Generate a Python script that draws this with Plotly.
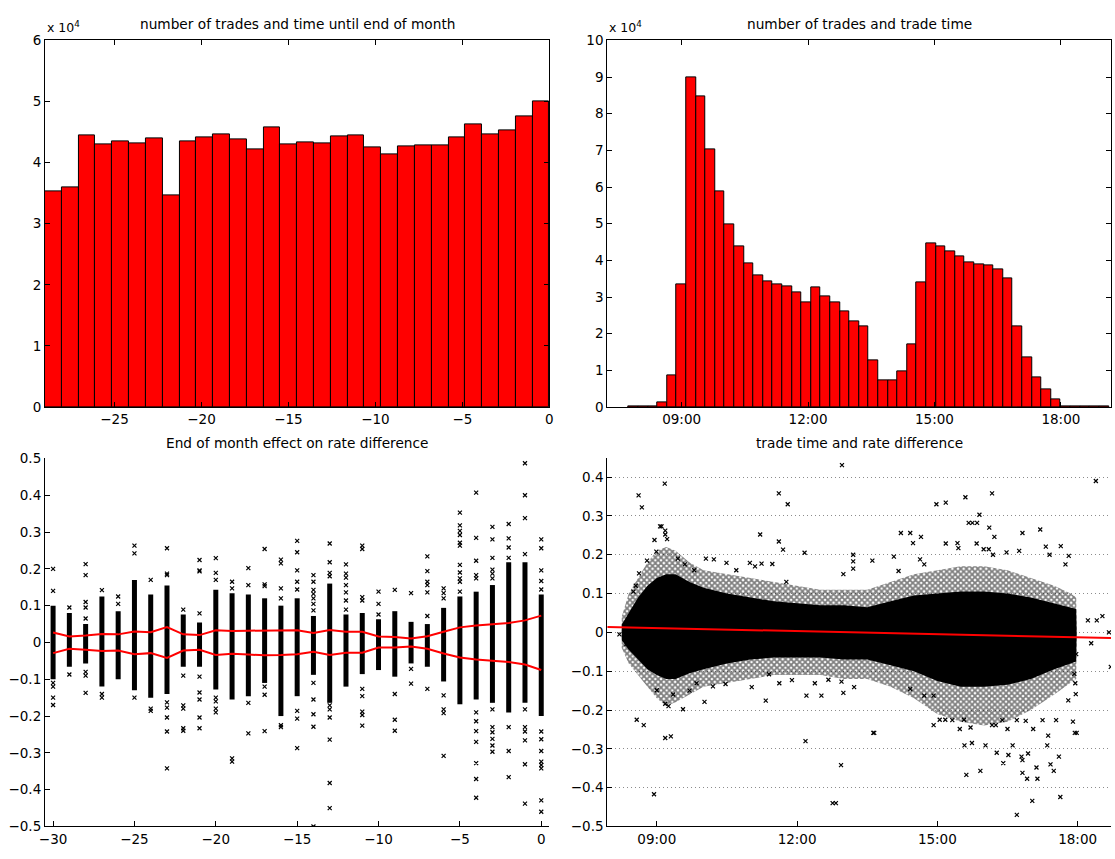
import numpy as np
import plotly.graph_objects as go

W, H = 1115, 859

# ---------------- data ----------------
# trades per day-bin, from -29 days to month end (30 bins)
month_counts = [35300, 36000, 44400, 42900, 43500, 43200, 43950, 34700, 43400, 44200,
                44600, 43800, 42100, 45700, 43000, 43300, 43100, 44300, 44400, 42500,
                41400, 42700, 42800, 42800, 44100, 46250, 44600, 45200, 47500, 50060]
month_first, month_last = -29, 0

# trades per time-of-day bin (hours)
time_bin_start = 7.742
time_bin_width = 0.2279
time_counts = [200, 200, 300,
               1400, 8600, 33500, 90000, 84800, 70400, 58800, 49800, 43800, 39200,
               36000, 34200, 33500, 33000, 31200, 28500, 32500, 30200, 28500, 26000,
               23400, 21900, 12600, 7300, 7300, 9700, 17100, 34000, 44500, 43800,
               42500, 41000, 39500, 39000, 38500, 37500, 35000, 22000, 13600, 8200,
               4800, 2200,
               100, 100, 100, 100, 100]

# rate difference by day relative to month end
rate_days = list(range(-30, 1))
band_upper = [0.027, 0.016, 0.019, 0.023, 0.022, 0.030, 0.028, 0.042, 0.022, 0.020,
              0.033, 0.031, 0.032, 0.033, 0.033, 0.033, 0.026, 0.034, 0.029, 0.029,
              0.016, 0.015, 0.011, 0.017, 0.029, 0.041, 0.046, 0.050, 0.053, 0.060, 0.073]
band_lower = [-0.029, -0.017, -0.020, -0.023, -0.022, -0.032, -0.029, -0.042, -0.022, -0.020,
              -0.034, -0.031, -0.033, -0.035, -0.034, -0.032, -0.025, -0.034, -0.028, -0.028,
              -0.014, -0.014, -0.011, -0.017, -0.030, -0.041, -0.046, -0.050, -0.053, -0.060, -0.075]
dense_lo = [-0.10, -0.066, -0.057, -0.12, -0.10, -0.13, -0.15, -0.14, -0.066, -0.066,
            -0.128, -0.155, -0.146, -0.11, -0.20, -0.146, -0.088, -0.164, -0.12, -0.086,
            -0.075, -0.093, -0.057, -0.066, -0.106, -0.168, -0.155, -0.164, -0.19, -0.164, -0.20]
dense_hi = [0.10, 0.08, 0.05, 0.125, 0.085, 0.17, 0.13, 0.155, 0.076, 0.054,
            0.143, 0.134, 0.13, 0.12, 0.10, 0.12, 0.072, 0.16, 0.076, 0.08,
            0.063, 0.085, 0.056, 0.05, 0.094, 0.125, 0.138, 0.156, 0.218, 0.218, 0.13]
month_outliers = [
    (-30, 0.2), (-30, 0.14), (-30, -0.11), (-30, -0.12), (-30, -0.15), (-30, -0.17),
    (-29, 0.095), (-29, -0.087),
    (-28, 0.213), (-28, 0.183), (-28, 0.11), (-28, 0.095), (-28, 0.065), (-28, -0.08),
    (-28, -0.09), (-28, -0.137),
    (-27, 0.142), (-27, -0.14), (-27, -0.15),
    (-26, 0.125), (-26, 0.105),
    (-25, 0.263), (-25, 0.242), (-25, -0.15),
    (-24, 0.17), (-24, -0.18), (-24, -0.186),
    (-23, 0.256), (-23, 0.187), (-23, 0.183), (-23, -0.163), (-23, -0.177), (-23, -0.204),
    (-23, -0.242), (-23, -0.342),
    (-22, 0.089), (-22, -0.09), (-22, -0.171), (-22, -0.18), (-22, -0.233), (-22, -0.24),
    (-21, 0.224), (-21, 0.196), (-21, 0.193), (-21, 0.079), (-21, -0.093), (-21, -0.136),
    (-21, -0.155), (-21, -0.204), (-21, -0.233),
    (-20, 0.229), (-20, 0.189), (-20, 0.17), (-20, -0.15), (-20, -0.16), (-20, -0.18), (-20, -0.19),
    (-19, 0.165), (-19, 0.147), (-19, -0.315), (-19, -0.324),
    (-18, 0.202), (-18, 0.156), (-18, -0.164), (-18, -0.247),
    (-17, 0.254), (-17, 0.158), (-17, 0.153), (-17, -0.12), (-17, -0.142), (-17, -0.241),
    (-16, 0.225), (-16, 0.215), (-16, 0.147), (-16, 0.12), (-16, -0.23), (-16, -0.225),
    (-15, 0.276), (-15, 0.245), (-15, 0.196), (-15, 0.165), (-15, 0.144), (-15, -0.186),
    (-15, -0.207), (-15, -0.287),
    (-14, 0.183), (-14, 0.165), (-14, 0.143), (-14, 0.132), (-14, 0.12), (-14, 0.105),
    (-14, 0.087), (-14, -0.11), (-14, -0.155), (-14, -0.195), (-14, -0.229), (-14, -0.5),
    (-13, 0.269), (-13, 0.218), (-13, 0.189), (-13, 0.18), (-13, -0.171), (-13, -0.182),
    (-13, -0.204), (-13, -0.264), (-13, -0.382), (-13, -0.45),
    (-12, 0.212), (-12, 0.187), (-12, 0.176), (-12, 0.156), (-12, 0.136), (-12, 0.114), (-12, 0.089),
    (-11, 0.263), (-11, 0.254), (-11, 0.123), (-11, 0.114), (-11, -0.126), (-11, -0.146),
    (-11, -0.188), (-11, -0.197), (-11, -0.226),
    (-10, 0.138), (-10, 0.105), (-10, 0.076),
    (-9, 0.143), (-9, -0.14), (-9, -0.21), (-9, -0.24),
    (-8, 0.134), (-8, -0.072), (-8, -0.112),
    (-7, 0.234), (-7, 0.194), (-7, 0.165), (-7, 0.156), (-7, 0.136), (-7, 0.072), (-7, -0.126),
    (-6, 0.147), (-6, 0.134), (-6, 0.12), (-6, -0.144), (-6, -0.182), (-6, -0.192), (-6, -0.308),
    (-5, 0.353), (-5, 0.318), (-5, 0.303), (-5, 0.292), (-5, 0.271), (-5, 0.263), (-5, 0.211),
    (-5, 0.19), (-5, 0.174), (-5, 0.165), (-5, 0.138),
    (-4, 0.407), (-4, 0.284), (-4, 0.222), (-4, 0.183), (-4, 0.174), (-4, -0.19), (-4, -0.214),
    (-4, -0.241), (-4, -0.27), (-4, -0.328), (-4, -0.371), (-4, -0.422),
    (-3, 0.314), (-3, 0.28), (-3, 0.23), (-3, 0.198), (-3, 0.187), (-3, 0.174), (-3, -0.182),
    (-3, -0.23), (-3, -0.244), (-3, -0.262), (-3, -0.28), (-3, -0.297),
    (-2, 0.322), (-2, 0.283), (-2, 0.258), (-2, 0.23), (-2, -0.23), (-2, -0.295), (-2, -0.366),
    (-1, 0.487), (-1, 0.4), (-1, 0.338), (-1, 0.24), (-1, -0.182), (-1, -0.23), (-1, -0.242),
    (-1, -0.266), (-1, -0.331), (-1, -0.438),
    (0, 0.28), (0, 0.256), (0, 0.196), (0, 0.167), (0, 0.144), (0, -0.242), (0, -0.263),
    (0, -0.295), (0, -0.324), (0, -0.333), (0, -0.342), (0, -0.429), (0, -0.46),
]

# rate difference by trade time: solid core, speckled fringe, isolated trades
cloud_hours = [8.25, 8.4, 8.6, 8.8, 9.0, 9.2, 9.4, 9.7, 10.0, 10.5, 11.0, 11.5, 12.0, 12.5,
               13.0, 13.5, 14.0, 14.5, 15.0, 15.5, 16.0, 16.5, 17.0, 17.5, 17.85, 17.97, 17.98]
core_hi = [0.02, 0.05, 0.09, 0.12, 0.14, 0.15, 0.15, 0.13, 0.115, 0.10, 0.09, 0.08, 0.075, 0.07,
           0.07, 0.065, 0.08, 0.095, 0.10, 0.105, 0.105, 0.10, 0.09, 0.075, 0.065, 0.06, 0.0]
core_lo = [-0.02, -0.045, -0.07, -0.095, -0.11, -0.12, -0.12, -0.105, -0.095, -0.08, -0.07, -0.065,
           -0.065, -0.065, -0.07, -0.07, -0.085, -0.10, -0.125, -0.14, -0.14, -0.135, -0.12, -0.095,
           -0.08, -0.075, 0.0]
fringe_hi = [0.04, 0.10, 0.14, 0.18, 0.21, 0.22, 0.21, 0.18, 0.16, 0.15, 0.14, 0.13, 0.12, 0.11,
             0.11, 0.11, 0.13, 0.15, 0.16, 0.17, 0.17, 0.16, 0.14, 0.12, 0.10, 0.09, 0.0]
fringe_lo = [-0.04, -0.08, -0.11, -0.14, -0.17, -0.19, -0.18, -0.16, -0.14, -0.13, -0.12, -0.11,
             -0.11, -0.11, -0.12, -0.12, -0.14, -0.17, -0.21, -0.23, -0.24, -0.23, -0.20, -0.16,
             -0.13, -0.12, 0.0]
time_outliers = [
    (8.61, 0.353), (8.68, 0.322), (9.17, 0.383), (9.07, 0.273), (9.1, 0.273), (9.18, 0.262),
    (9.18, 0.252), (9.22, 0.24), (8.95, 0.238), (8.99, 0.208), (8.79, 0.185), (8.62, 0.152),
    (8.55, 0.12), (8.5, 0.105),
    (11.61, 0.358), (11.8, 0.33), (12.96, 0.431), (11.21, 0.252), (11.61, 0.234), (11.7, 0.213),
    (12.16, 0.205), (10.05, 0.19), (10.22, 0.188), (10.49, 0.179), (10.99, 0.179), (11.24, 0.177),
    (11.47, 0.176), (11.77, 0.13), (9.45, 0.19), (9.6, 0.175), (9.8, 0.16), (10.7, 0.16), (11.1, 0.17),
    (8.57, -0.225), (8.72, -0.239), (8.94, -0.417), (9.18, -0.272), (9.3, -0.268), (9.0, -0.149),
    (9.18, -0.184), (9.56, -0.198), (10.02, -0.179), (11.33, -0.176), (12.18, -0.28), (12.76, -0.44),
    (12.83, -0.44), (12.94, -0.342), (12.99, -0.156),
    (9.85, -0.131), (10.2, -0.139), (10.47, -0.133), (11.03, -0.141), (11.4, -0.108), (11.62, -0.131),
    (11.89, -0.123), (12.38, -0.131), (12.67, -0.122), (12.2, -0.163), (12.52, -0.163), (9.25, -0.19),
    (9.35, -0.16), (9.7, -0.15), (8.35, -0.03), (8.3, -0.005), (8.2, -0.005),
    (14.98, 0.33), (15.18, 0.334), (15.6, 0.348), (16.17, 0.358), (15.9, 0.303), (15.67, 0.282),
    (15.75, 0.282), (15.85, 0.282), (16.11, 0.27), (16.22, 0.246), (17.2, 0.265), (16.82, 0.256),
    (14.22, 0.256), (14.42, 0.256), (14.65, 0.246), (14.48, 0.23), (15.18, 0.229), (15.43, 0.23),
    (15.45, 0.217), (15.84, 0.229), (15.99, 0.214), (16.1, 0.214), (16.19, 0.2), (16.48, 0.206),
    (16.75, 0.21), (17.32, 0.221), (17.4, 0.2), (17.64, 0.222), (17.81, 0.197), (17.74, 0.175),
    (18.39, 0.39), (18.53, 0.042), (18.41, 0.031), (18.22, 0.031), (18.67, 0.0), (18.29, -0.028),
    (17.97, -0.056), (18.71, -0.089), (17.93, -0.107), (17.95, -0.131), (17.96, -0.159), (17.8, -0.175),
    (17.9, -0.23), (17.94, -0.259), (17.98, -0.259), (17.54, -0.226), (17.37, -0.266), (17.35, -0.291),
    (17.6, -0.32), (17.42, -0.34), (17.49, -0.357), (17.63, -0.424), (17.12, -0.348), (17.14, -0.377),
    (17.03, -0.434), (16.92, -0.377), (16.82, -0.362), (16.8, -0.32), (16.82, -0.329), (16.94, -0.312),
    (16.7, -0.47), (16.61, -0.291), (16.52, -0.316), (16.41, -0.337), (16.27, -0.31), (15.92, -0.357),
    (16.03, -0.291), (15.62, -0.367), (15.58, -0.291), (15.74, -0.285), (15.32, -0.226), (15.57, -0.225),
    (15.48, -0.249), (15.71, -0.245), (14.92, -0.239), (15.05, -0.225), (15.17, -0.225), (16.17, -0.239),
    (16.25, -0.239), (16.39, -0.226), (16.5, -0.249), (16.7, -0.226), (16.89, -0.228), (17.05, -0.249),
    (17.25, -0.226), (13.63, -0.259), (13.65, -0.259), (12.99, 0.15), (13.2, 0.2), (13.2, 0.183),
    (13.2, 0.164), (13.61, 0.185), (14.07, 0.195), (14.17, 0.158), (14.63, 0.188), (14.72, 0.175),
    (12.95, -0.127), (13.22, -0.141), (14.42, -0.146), (14.72, -0.163), (14.92, -0.163),
]
fit_hours = [7.94, 18.72]
fit_values = [0.014, -0.0147]

clock_ticks = [9, 12, 15, 18]
clock_labels = ["09:00", "12:00", "15:00", "18:00"]

# ---------------- geometry helpers (pixels -> paper) ----------------
def px(x):
    return x / W


def py(y):
    return 1 - y / H


FONT = "DejaVu Sans, Liberation Sans, Arial, sans-serif"
RED = "#ff0000"
TICK_SIZE = 13.5
TITLE_SIZE = 13.7

fig = go.Figure()

# top-left histogram
month_width = (month_last - month_first) / len(month_counts)
month_centers = [month_first + (i + 0.5) * month_width for i in range(len(month_counts))]
fig.add_trace(go.Bar(x=month_centers, y=month_counts, width=month_width,
                     marker=dict(color=RED, line=dict(color="black", width=1)),
                     xaxis="x", yaxis="y", showlegend=False))

# top-right histogram
time_centers = [time_bin_start + (i + 0.5) * time_bin_width for i in range(len(time_counts))]
fig.add_trace(go.Bar(x=time_centers, y=time_counts, width=time_bin_width,
                     marker=dict(color=RED, line=dict(color="black", width=1)),
                     xaxis="x2", yaxis="y2", showlegend=False))

# bottom-left: dense per-day columns, isolated trades, spread band
col_x, col_y = [], []
for d, lo, hi in zip(rate_days, dense_lo, dense_hi):
    col_x += [d, d, None]
    col_y += [lo, hi, None]
fig.add_trace(go.Scatter(x=col_x, y=col_y, mode="lines",
                         line=dict(color="black", width=5),
                         xaxis="x3", yaxis="y3", showlegend=False, hoverinfo="skip"))
fig.add_trace(go.Scatter(x=[p[0] for p in month_outliers], y=[p[1] for p in month_outliers],
                         mode="markers",
                         marker=dict(symbol="x-thin", size=4, line=dict(color="black", width=1.2)),
                         xaxis="x3", yaxis="y3", showlegend=False))
for band in (band_upper, band_lower):
    fig.add_trace(go.Scatter(x=rate_days, y=band, mode="lines",
                             line=dict(color=RED, width=2),
                             xaxis="x3", yaxis="y3", showlegend=False))

# bottom-right: trade cloud (speckled fringe, solid core) and fitted line
ring_x = cloud_hours + cloud_hours[::-1]
fig.add_trace(go.Scatter(x=ring_x, y=fringe_hi + fringe_lo[::-1], mode="lines", fill="toself",
                         fillcolor="rgba(0,0,0,0)",
                         fillpattern=dict(shape="x", fgcolor="black", bgcolor="rgba(0,0,0,0)",
                                          size=4, solidity=0.7),
                         line=dict(width=0), xaxis="x4", yaxis="y4", showlegend=False,
                         hoverinfo="skip"))
fig.add_trace(go.Scatter(x=ring_x, y=core_hi + core_lo[::-1],
                         mode="lines", fill="toself", fillcolor="black",
                         line=dict(width=0), xaxis="x4", yaxis="y4", showlegend=False,
                         hoverinfo="skip"))
fig.add_trace(go.Scatter(x=[p[0] for p in time_outliers], y=[p[1] for p in time_outliers],
                         mode="markers",
                         marker=dict(symbol="x-thin", size=4, line=dict(color="black", width=1.2)),
                         xaxis="x4", yaxis="y4", showlegend=False))
fig.add_trace(go.Scatter(x=fit_hours, y=fit_values, mode="lines",
                         line=dict(color=RED, width=2),
                         xaxis="x4", yaxis="y4", showlegend=False))

# ---------------- axes ----------------
base = dict(showline=True, linecolor="black", linewidth=1, ticks="inside", ticklen=5,
            tickcolor="black", tickwidth=1, showgrid=False, zeroline=False,
            tickfont=dict(family=FONT, size=TICK_SIZE, color="black"), fixedrange=True)

LEFT = (px(39.3), px(548.3))
RIGHT = (px(606.7), 1.0)
TOP = (py(406.6), py(33))
BOTTOM = (py(834), py(459))

y01 = [round(v, 1) for v in np.arange(-0.5, 0.51, 0.1)]


def fmt(v):
    return "0" if v == 0 else ("\u2212" + f"{abs(v):g}" if v < 0 else f"{v:g}")


fig.update_layout(
    width=W, height=H, margin=dict(l=0, r=0, t=0, b=0),
    paper_bgcolor="white", plot_bgcolor="white", bargap=0,
    font=dict(family=FONT, size=TICK_SIZE, color="black"),
    xaxis=dict(base, domain=LEFT, anchor="y", range=[month_first, month_last],
               tickvals=[-25, -20, -15, -10, -5, 0], ticktext=[fmt(v) for v in [-25, -20, -15, -10, -5, 0]],
               mirror="ticks"),
    yaxis=dict(base, domain=TOP, anchor="x", range=[0, 60000],
               tickvals=list(range(0, 60001, 10000)), ticktext=[str(i) for i in range(7)],
               mirror="ticks"),
    xaxis2=dict(base, domain=RIGHT, anchor="y2", range=[7.235, 19.19],
                tickvals=clock_ticks, ticktext=clock_labels, mirror="ticks"),
    yaxis2=dict(base, domain=TOP, anchor="x2", range=[0, 100000],
                tickvals=list(range(0, 100001, 10000)), ticktext=[str(i) for i in range(11)],
                mirror="ticks"),
    xaxis3=dict(base, domain=LEFT, anchor="y3", range=[-30.5, 0.5],
                tickvals=list(range(-30, 1, 5)), ticktext=[fmt(v) for v in range(-30, 1, 5)]),
    yaxis3=dict(base, domain=BOTTOM, anchor="x3", range=[-0.5, 0.5],
                tickvals=y01, ticktext=[fmt(v) for v in y01]),
    xaxis4=dict(base, domain=RIGHT, anchor="y4", range=[7.94, 18.714],
                tickvals=clock_ticks, ticktext=clock_labels),
    yaxis4=dict(base, domain=BOTTOM, anchor="x4", range=[-0.5, 0.448],
                tickvals=y01[:-1], ticktext=[fmt(v) for v in y01[:-1]],
                showgrid=True, gridcolor="#8c8c8c", griddash="1px,3px", gridwidth=1),
)

titles = [
    ("number of trades and time until end of month", (39.3 + 548.3) / 2, 16),
    ("number of trades and trade time", (606.7 + 1116) / 2, 16),
    ("End of month effect on rate difference", (39.3 + 548.3) / 2, 443),
    ("trade time and rate difference", (606.7 + 1116) / 2, 443),
]
for text, cx, cy in titles:
    fig.add_annotation(text=text, x=px(cx), y=py(cy), xref="paper", yref="paper",
                       showarrow=False, xanchor="center", yanchor="middle",
                       font=dict(family=FONT, size=TITLE_SIZE, color="black"))

for x0 in (39.3, 606.7):
    fig.add_annotation(text="x 10<sup>4</sup>", x=px(x0), y=py(30), xref="paper", yref="paper",
                       showarrow=False, xanchor="left", yanchor="bottom",
                       font=dict(family=FONT, size=12.5, color="black"))

fig.write_html("out.html")
